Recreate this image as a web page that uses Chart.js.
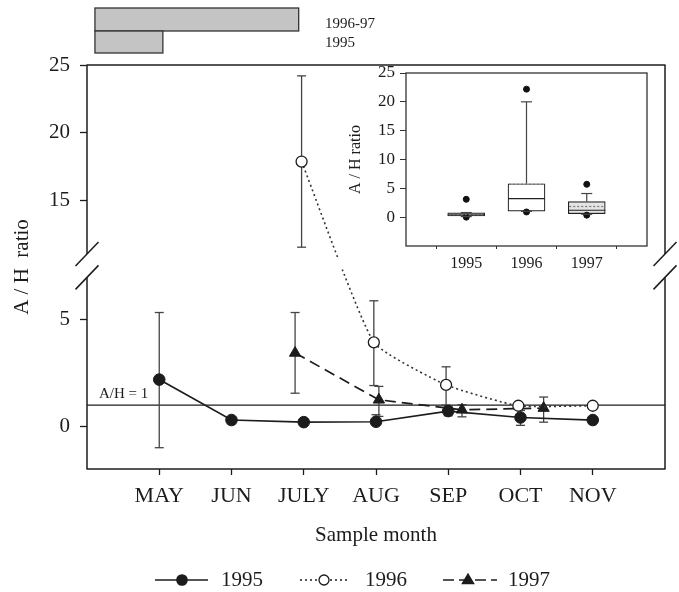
<!DOCTYPE html>
<html><head><meta charset="utf-8">
<script src="https://cdn.jsdelivr.net/npm/chart.js@4.4.0/dist/chart.umd.min.js"></script>
<style>
html,body{margin:0;padding:0;background:#fff;}
#wrap{position:relative;width:679px;height:592px;overflow:hidden;}
#main{position:absolute;left:0;top:0;}
#inset{position:absolute;left:335px;top:62px;}
</style></head><body>
<div id="wrap"><canvas id="main" width="679" height="592"></canvas><canvas id="inset" width="320" height="215"></canvas></div>
<script>
// ---------- data ----------
const months = ['MAY','JUN','JULY','AUG','SEP','OCT','NOV'];
const yTickValues = [0,5,15,20,25];
// 1995
const x1995 = [0,1,2,3,4,5,6];
const y1995 = [2.2,0.3,0.2,0.22,0.72,0.42,0.3];
const lo1995 = [-1.0,0.3,0.2,0.05,0.5,0.05,0.3];
const hi1995 = [5.35,0.3,0.2,0.55,0.95,0.75,0.3];
// 1996
const x1996 = [1.97,2.97,3.97,4.97,6.0];
const y1996 = [17.9,3.95,1.95,0.97,0.97];
const lo1996 = [11.6,1.92,1.0,0.97,0.97];
const hi1996 = [24.2,5.9,2.8,0.97,0.97];
// 1997
const x1997 = [1.88,3.04,4.19,5.32];
const y1997 = [3.45,1.25,0.78,0.86];
const lo1997 = [1.56,0.47,0.45,0.2];
const hi1997 = [5.35,1.88,1.02,1.38];
const seriesNames = ['1995','1996','1997'];
const refValue = 1;
const refLabel = 'A/H = 1';
// sampling periods (top bars), in month units of the x axis
const periodLabels = ['1996-97','1995'];
const periodStart = [-0.89,-0.89];
const periodEnd = [1.93,0.05];
// inset box plot
const boxYears = ['1995','1996','1997'];
const boxQ1 = [0.2,1.05,0.6];
const boxMedian = [0.4,3.2,1.2];
const boxMean = [0.45,5.7,1.85];
const boxQ3 = [0.75,5.8,2.7];
const boxWhiskerLo = [0.1,1.0,0.5];
const boxWhiskerHi = [0.8,20.0,4.1];
const boxOutliers = [[3.1,0.0],[22.2,0.9],[5.7,0.35]];
const insetTickValues = [0,5,10,15,20,25];

// ---------- setup ----------
const FONT = '"Liberation Serif", "Times New Roman", serif';
Chart.defaults.font.family = FONT;
Chart.defaults.color = '#1a1a1a';
const INK = '#1c1c1c';

class BrokenLinearScale extends Chart.LinearScale {
  static id = 'brokenLinear';
  static defaults = {};
  _dec(v) {
    const b = this.options.brk;
    const min = this.min, max = this.max;
    if (v <= b.lowMax) return (v - min) / (b.lowMax - min) * b.lowEnd;
    if (v >= b.highMin) return b.highStart + (v - b.highMin) / (max - b.highMin) * (1 - b.highStart);
    return b.lowEnd + (v - b.lowMax) / (b.highMin - b.lowMax) * (b.highStart - b.lowEnd);
  }
  getPixelForValue(v) {
    if (v === null || v === undefined || isNaN(v)) return NaN;
    return this.getPixelForDecimal(this._dec(v));
  }
  getValueForPixel(p) {
    const d = this.getDecimalForPixel(p);
    const b = this.options.brk;
    const min = this.min, max = this.max;
    if (d <= b.lowEnd) return min + d / b.lowEnd * (b.lowMax - min);
    if (d >= b.highStart) return b.highMin + (d - b.highStart) / (1 - b.highStart) * (max - b.highMin);
    return b.lowMax + (d - b.lowEnd) / (b.highStart - b.lowEnd) * (b.highMin - b.lowMax);
  }
}
Chart.register(BrokenLinearScale);

function seg(ctx, x1, y1, x2, y2) { ctx.beginPath(); ctx.moveTo(x1, y1); ctx.lineTo(x2, y2); ctx.stroke(); }
function marker(ctx, style, x, y, r, fill) {
  ctx.save();
  ctx.setLineDash([]);
  ctx.lineWidth = 1.3; ctx.strokeStyle = INK; ctx.fillStyle = fill;
  ctx.beginPath();
  if (style === 'triangle') {
    ctx.moveTo(x, y - r); ctx.lineTo(x + r * 0.95, y + r * 0.6); ctx.lineTo(x - r * 0.95, y + r * 0.6); ctx.closePath();
  } else {
    ctx.arc(x, y, r, 0, Math.PI * 2);
  }
  ctx.fill(); ctx.stroke();
  ctx.restore();
}

const errLo = [lo1995, lo1996, lo1997];
const errHi = [hi1995, hi1996, hi1997];

const mainDecor = {
  id: 'mainDecor',
  beforeDatasetsDraw(chart) {
    const {ctx, chartArea: a, scales: {x, y}} = chart;
    ctx.save();
    ctx.strokeStyle = INK; ctx.lineWidth = 1.3;
    const yr = y.getPixelForValue(refValue);
    seg(ctx, a.left, yr, a.right, yr);
    ctx.strokeStyle = '#444'; ctx.lineWidth = 1.3;
    for (let di = 0; di < 3; di++) {
      const meta = chart.getDatasetMeta(di);
      meta.data.forEach((pt, i) => {
        const yl = y.getPixelForValue(errLo[di][i]), yh = y.getPixelForValue(errHi[di][i]);
        if (Math.abs(yl - yh) < 0.5) return;
        seg(ctx, pt.x, yl, pt.x, yh);
        seg(ctx, pt.x - 4.5, yl, pt.x + 4.5, yl);
        seg(ctx, pt.x - 4.5, yh, pt.x + 4.5, yh);
      });
    }
    ctx.restore();
  },
  afterDatasetsDraw(chart) {
    const {ctx, chartArea: a, scales: {x, y}} = chart;
    const b = y.options.brk;
    const gTop = y.getPixelForValue(b.highMin);
    const gBot = y.getPixelForValue(b.lowMax);
    ctx.save();
    // gap in the plotted line at the axis break
    ctx.fillStyle = '#fff';
    ctx.fillRect(a.left + 1, gTop + 3, 300, gBot - gTop - 11);
    // frame
    ctx.strokeStyle = INK; ctx.lineWidth = 1.5;
    seg(ctx, a.left - 0.5, a.top, a.right + 0.5, a.top);
    seg(ctx, a.left - 0.5, a.bottom, a.right + 0.5, a.bottom);
    [a.left, a.right].forEach(xx => {
      seg(ctx, xx, a.top, xx, gTop);
      seg(ctx, xx, gBot, xx, a.bottom);
      seg(ctx, xx - 11.5, gTop + 12, xx + 11.5, gTop - 12);
      seg(ctx, xx - 11.5, gBot + 12, xx + 11.5, gBot - 12);
    });
    // reference label
    ctx.fillStyle = INK;
    ctx.font = '15px ' + FONT;
    ctx.textAlign = 'left'; ctx.textBaseline = 'middle';
    ctx.fillText(refLabel, a.left + 12, y.getPixelForValue(refValue) - 11);
    // sampling-period bars
    const rows = [[8, 31], [31, 53]];
    periodLabels.forEach((lab, i) => {
      const x0 = x.getPixelForValue(periodStart[i]), x1 = x.getPixelForValue(periodEnd[i]);
      ctx.fillStyle = '#c4c4c4';
      ctx.fillRect(x0, rows[i][0], x1 - x0, rows[i][1] - rows[i][0]);
      ctx.strokeStyle = '#333'; ctx.lineWidth = 1.3;
      ctx.strokeRect(x0, rows[i][0], x1 - x0, rows[i][1] - rows[i][0]);
    });
    ctx.fillStyle = INK; ctx.font = '15px ' + FONT;
    ctx.fillText(periodLabels[0], 325, 24);
    ctx.fillText(periodLabels[1], 325, 43);
    // legend
    const ly = 580;
    const items = [
      {x0: 155, x1: 208, mx: 182, tx: 221, dash: [], style: 'circle', fill: INK, r: 5.2},
      {x0: 300, x1: 350, mx: 324, tx: 365, dash: [2, 3], style: 'circle', fill: '#fff', r: 5},
      {x0: 443, x1: 497, mx: 468, tx: 508, dash: [11, 5], style: 'triangle', fill: INK, r: 6}
    ];
    items.forEach((it, i) => {
      ctx.strokeStyle = INK; ctx.lineWidth = 1.6; ctx.setLineDash(it.dash);
      seg(ctx, it.x0, ly, it.x1, ly);
      ctx.setLineDash([]);
      marker(ctx, it.style, it.mx, ly, it.r, it.fill);
      ctx.fillStyle = INK; ctx.font = '21px ' + FONT;
      ctx.textAlign = 'left'; ctx.textBaseline = 'middle';
      ctx.fillText(seriesNames[i], it.tx, ly);
    });
    ctx.restore();
  }
};

new Chart(document.getElementById('main'), {
  type: 'line',
  data: {
    datasets: [
      {label: seriesNames[0], data: x1995.map((v, i) => ({x: v, y: y1995[i]})),
       borderColor: INK, borderWidth: 1.7, tension: 0,
       pointStyle: 'circle', pointRadius: 5.8, pointBackgroundColor: INK, pointBorderColor: INK, pointBorderWidth: 1},
      {label: seriesNames[1], data: x1996.map((v, i) => ({x: v, y: y1996[i]})),
       borderColor: '#333', borderWidth: 1.6, borderDash: [2, 3], tension: 0.15,
       pointStyle: 'circle', pointRadius: 5.5, pointBackgroundColor: '#fff', pointBorderColor: INK, pointBorderWidth: 1.3},
      {label: seriesNames[2], data: x1997.map((v, i) => ({x: v, y: y1997[i]})),
       borderColor: INK, borderWidth: 1.7, borderDash: [11, 6], tension: 0,
       pointStyle: 'triangle', pointRadius: 6.5, pointBackgroundColor: INK, pointBorderColor: INK, pointBorderWidth: 1}
    ]
  },
  options: {
    responsive: false, animation: false, events: [],
    layout: {padding: {left: 0, top: 65, right: 14, bottom: 36}},
    plugins: {legend: {display: false}, tooltip: {enabled: false}},
    scales: {
      x: {
        type: 'linear', min: -1, max: 7,
        afterBuildTicks: s => { s.ticks = months.map((m, i) => ({value: i})); },
        afterFit: s => { s.height = 87; },
        ticks: {callback: v => months[v] ?? '', font: {size: 22}, color: INK, padding: 8, autoSkip: false, maxRotation: 0},
        grid: {drawOnChartArea: false, drawTicks: true, tickLength: 6, color: INK, tickColor: INK, tickWidth: 1.3},
        border: {display: false},
        title: {display: true, text: 'Sample month', font: {size: 21}, color: INK, padding: {top: 0, bottom: 8}}
      },
      y: {
        type: 'brokenLinear', min: -2, max: 25,
        brk: {lowMax: 7, highMin: 11.1, lowEnd: 0.4743, highStart: 0.5322},
        afterBuildTicks: s => { s.ticks = yTickValues.map(v => ({value: v})); },
        afterFit: s => { s.width = 87; },
        ticks: {font: {size: 21}, color: INK, padding: 10},
        grid: {drawOnChartArea: false, drawTicks: true, tickLength: 7, color: INK, tickColor: INK, tickWidth: 1.3},
        border: {display: false},
        title: {display: true, text: 'A / H  ratio', font: {size: 21}, color: INK, padding: {top: 10, bottom: 0}}
      }
    }
  },
  plugins: [mainDecor]
});

// ---------- inset box plot ----------
const insetDecor = {
  id: 'insetDecor',
  afterDatasetsDraw(chart) {
    const {ctx, chartArea: a, scales: {x, y}} = chart;
    ctx.save();
    ctx.strokeStyle = '#333'; ctx.lineWidth = 1.2;
    boxYears.forEach((yr, i) => {
      const cx = x.getPixelForValue(i + 1);
      const half = 18.5, cap = 5.5;
      const pq1 = y.getPixelForValue(boxQ1[i]), pq3 = y.getPixelForValue(boxQ3[i]);
      const plo = y.getPixelForValue(boxWhiskerLo[i]), phi = y.getPixelForValue(boxWhiskerHi[i]);
      ctx.setLineDash([]);
      ctx.strokeStyle = '#444';
      seg(ctx, cx, pq3, cx, phi); seg(ctx, cx - cap, phi, cx + cap, phi);
      seg(ctx, cx, pq1, cx, plo); seg(ctx, cx - cap, plo, cx + cap, plo);
      ctx.strokeStyle = '#222';
      const pm = y.getPixelForValue(boxMedian[i]);
      seg(ctx, cx - half, pm, cx + half, pm);
      ctx.setLineDash([2, 2]); ctx.strokeStyle = '#777';
      const pmean = y.getPixelForValue(boxMean[i]);
      seg(ctx, cx - half + 1, pmean, cx + half - 1, pmean);
    });
    ctx.setLineDash([]);
    ctx.strokeStyle = '#333'; ctx.lineWidth = 1.3;
    ctx.strokeRect(a.left, a.top, a.right - a.left, a.bottom - a.top);
    ctx.restore();
  }
};

new Chart(document.getElementById('inset'), {
  data: {
    datasets: [
      {type: 'bar', data: boxYears.map((yr, i) => ({x: i + 1, y: [boxQ1[i], boxQ3[i]]})),
       backgroundColor: ['#ffffff', '#ffffff', '#e4e4e4'], borderColor: '#222', borderWidth: 1.2,
       borderSkipped: false, barThickness: 37, order: 2},
      {type: 'scatter', data: boxOutliers.flatMap((arr, i) => arr.map(v => ({x: i + 1, y: v}))),
       pointRadius: 3, pointBackgroundColor: '#111', pointBorderColor: '#111', order: 1}
    ]
  },
  options: {
    responsive: false, animation: false, events: [],
    layout: {padding: {left: 0, top: 11, right: 8, bottom: 0}},
    plugins: {legend: {display: false}, tooltip: {enabled: false}},
    scales: {
      x: {
        type: 'linear', min: 0, max: 4, offset: false,
        afterBuildTicks: s => { s.ticks = [0, 1, 2, 3, 4].map(v => ({value: v})); },
        afterFit: s => { s.height = 31; s.paddingLeft = 0; s.paddingRight = 0; },
        ticks: {callback: v => boxYears[v - 1] ?? '', font: {size: 16}, color: INK, padding: 5, autoSkip: false, maxRotation: 0},
        grid: {drawOnChartArea: false, drawTicks: true, tickLength: 3, color: '#333', tickColor: '#333'},
        border: {display: false}
      },
      y: {
        type: 'linear', min: -5, max: 25,
        afterBuildTicks: s => { s.ticks = insetTickValues.map(v => ({value: v})); },
        afterFit: s => { s.width = 71; s.paddingTop = 0; s.paddingBottom = 0; },
        ticks: {font: {size: 17}, color: INK, padding: 5},
        grid: {drawOnChartArea: false, drawTicks: true, tickLength: 6, color: '#333', tickColor: '#333'},
        border: {display: false},
        title: {display: true, text: 'A / H ratio', font: {size: 16}, color: INK, padding: {top: 11, bottom: 0}}
      }
    }
  },
  plugins: [insetDecor]
});
</script>
</body></html>
